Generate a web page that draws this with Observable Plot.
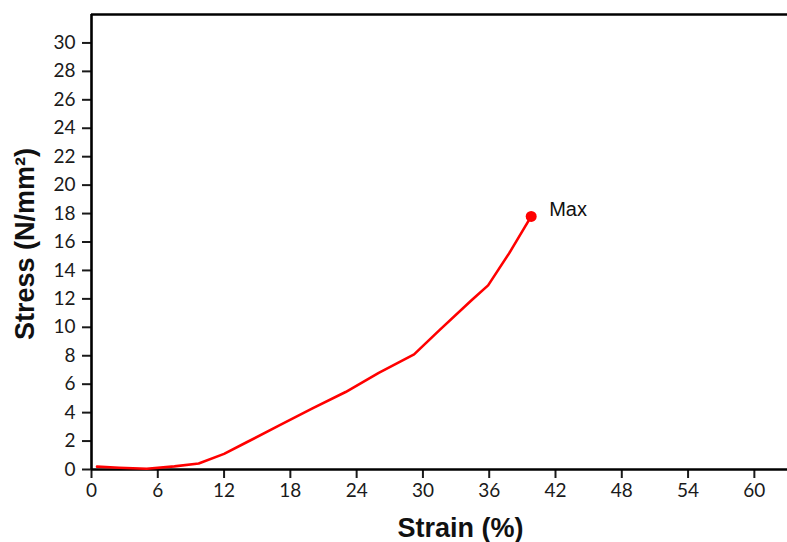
<!DOCTYPE html>
<html>
<head>
<meta charset="utf-8">
<script src="https://cdn.jsdelivr.net/npm/d3@7"></script>
<script src="https://cdn.jsdelivr.net/npm/@observablehq/plot@0.6"></script>
<style>
  html, body { margin: 0; padding: 0; background: #fff; }
  #chart svg { display: block; }
</style>
</head>
<body>
<div id="chart"></div>
<script>
// Data
const strain = [0.5, 2.5, 5, 7.5, 9.7, 12, 14, 17, 20, 23, 26, 29.2, 31.5, 34.4, 35.9, 37.8, 39.8];
const stress = [0.2, 0.12, 0.05, 0.22, 0.42, 1.1, 1.9, 3.1, 4.3, 5.45, 6.8, 8.1, 9.8, 11.9, 12.95, 15.2, 17.8];
const maxLabel = ["Max"];
const xTicks = [0, 6, 12, 18, 24, 30, 36, 42, 48, 54, 60];
const yTicks = [0, 2, 4, 6, 8, 10, 12, 14, 16, 18, 20, 22, 24, 26, 28, 30];
const xTitle = "Strain (%)";
const yTitle = "Stress (N/mm²)";
const xDomain = [0, 63];
const yDomain = [0, 32];

const data = strain.map((s, i) => ({strain: s, stress: stress[i]}));
const maxPoint = data.slice(-1);
const titleFont = "'Liberation Sans', Arial, sans-serif";

const chart = Plot.plot({
  width: 787,
  height: 542,
  marginTop: 14,
  marginLeft: 91,
  marginRight: 0,
  marginBottom: 73,
  style: {fontFamily: "Lato, sans-serif", fontSize: "19px", color: "#1a1a1a", overflow: "visible"},
  x: {domain: xDomain, label: null},
  y: {domain: yDomain, label: null},
  marks: [
    Plot.axisX({ticks: xTicks, tickSize: 9, tickPadding: 5, strokeWidth: 2, fontSize: 19, label: null}),
    Plot.axisY({ticks: yTicks, tickSize: 9, tickPadding: 7, strokeWidth: 2, fontSize: 19, label: null}),
    Plot.ruleY([yDomain[0]], {stroke: "black", strokeWidth: 2.6}),
    Plot.ruleY([yDomain[1]], {stroke: "black", strokeWidth: 2.6}),
    Plot.ruleX([xDomain[0]], {stroke: "black", strokeWidth: 2.6}),
    Plot.line(data, {x: "strain", y: "stress", stroke: "#ff0000", strokeWidth: 2.6, curve: "linear"}),
    Plot.dot(maxPoint, {x: "strain", y: "stress", r: 5.5, fill: "#ff0000", stroke: "none"}),
    Plot.text(maxPoint, {x: "strain", y: "stress", text: () => maxLabel[0], textAnchor: "start", dx: 18, dy: -7,
      fontSize: 20, fontFamily: titleFont, fill: "#111"}),
    Plot.text([xTitle], {frameAnchor: "bottom", text: d => d, textAnchor: "middle", lineAnchor: "middle", dx: 21, dy: 59,
      fontSize: 27, fontWeight: "bold", fontFamily: titleFont, fill: "#111"}),
    Plot.text([yTitle], {frameAnchor: "left", text: d => d, rotate: -90, textAnchor: "middle", lineAnchor: "middle", dx: -66, dy: 2,
      fontSize: 27, fontWeight: "bold", fontFamily: titleFont, fill: "#111"})
  ]
});
document.getElementById("chart").appendChild(chart);
</script>
</body>
</html>
